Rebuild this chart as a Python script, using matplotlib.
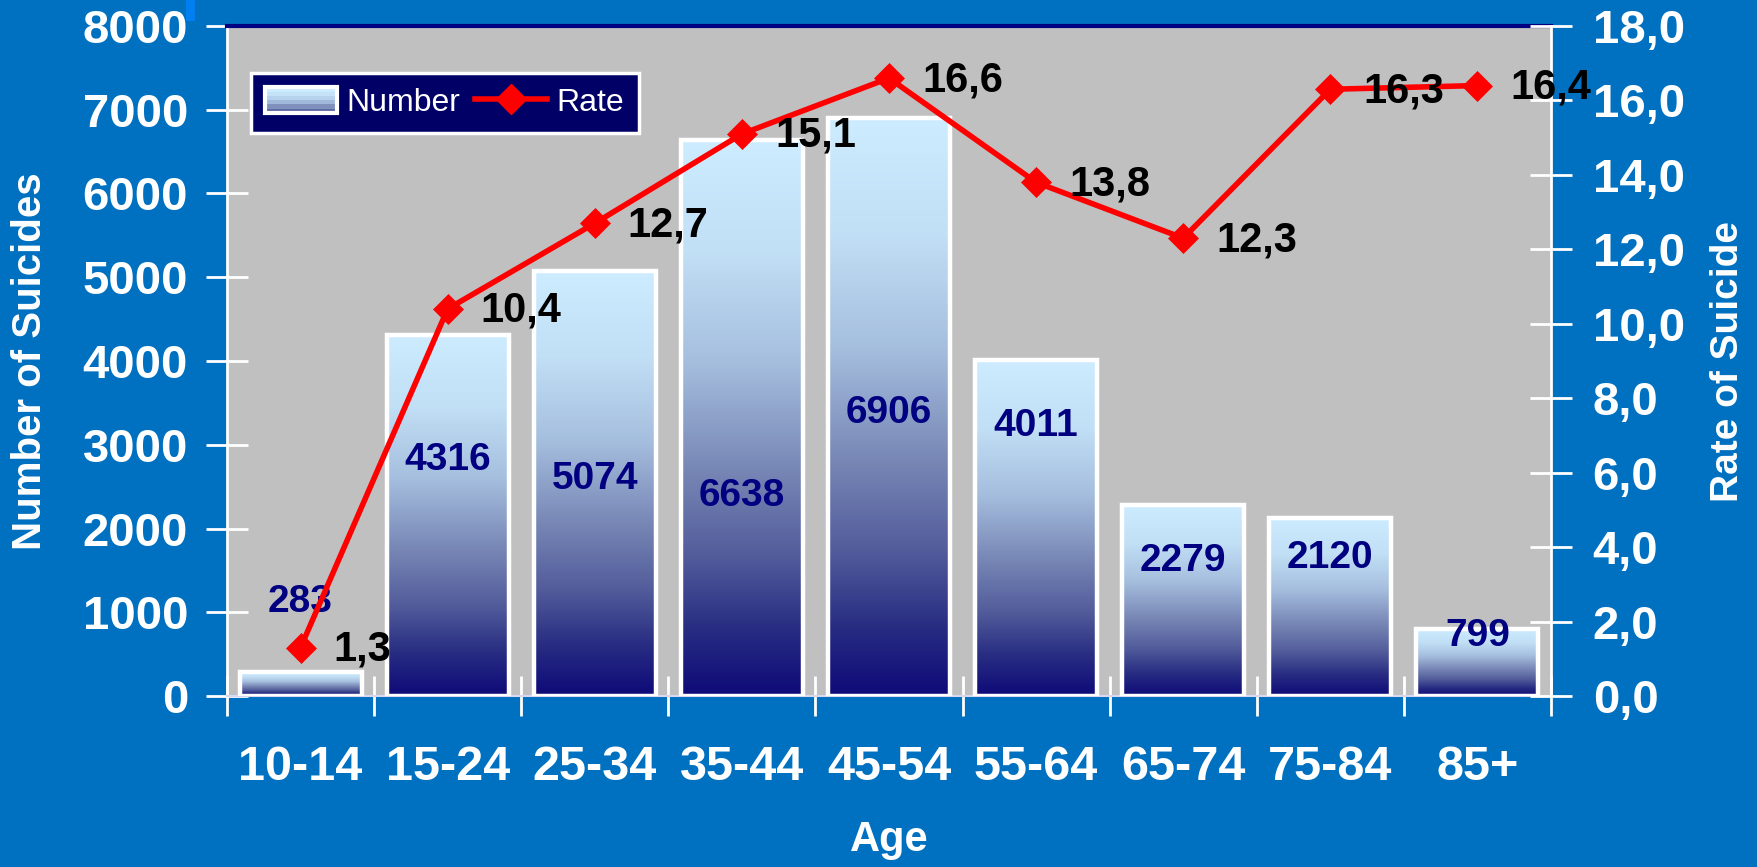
import numpy as np
import matplotlib
matplotlib.use("Agg")
import matplotlib.pyplot as plt
from matplotlib.colors import LinearSegmentedColormap
from matplotlib.patches import Rectangle
from matplotlib.lines import Line2D
from matplotlib.legend_handler import HandlerBase

# ---------------- data ----------------
age_groups = ['10-14', '15-24', '25-34', '35-44', '45-54', '55-64', '65-74', '75-84', '85+']
suicide_numbers = [283, 4316, 5074, 6638, 6906, 4011, 2279, 2120, 799]
suicide_rates = [1.3, 10.4, 12.7, 15.1, 16.6, 13.8, 12.3, 16.3, 16.4]
left_ticks = [0, 1000, 2000, 3000, 4000, 5000, 6000, 7000, 8000]
right_ticks = [0, 2, 4, 6, 8, 10, 12, 14, 16, 18]

# layout: vertical placement (data units) of the count labels
number_label_y = [1120, 2820, 2590, 2390, 3380, 3220, 1610, 1650, 720]

plt.rcParams['font.family'] = ['Liberation Sans', 'DejaVu Sans']
plt.rcParams['font.weight'] = 'bold'

BG = '#0070C0'
W, H = 1758, 867

fig = plt.figure(figsize=(W / 100, H / 100), dpi=100, facecolor=BG)
ax = fig.add_axes([227 / W, 1 - 696 / H, (1551 - 227) / W, (696 - 26) / H])
ax.set_facecolor('#C0C0C0')

cmap = LinearSegmentedColormap.from_list('bargrad', [
    (0.00, (14 / 255, 10 / 255, 120 / 255)),
    (0.12, (40 / 255, 45 / 255, 130 / 255)),
    (0.25, (82 / 255, 92 / 255, 155 / 255)),
    (0.40, (118 / 255, 133 / 255, 180 / 255)),
    (0.60, (165 / 255, 190 / 255, 222 / 255)),
    (0.80, (193 / 255, 223 / 255, 245 / 255)),
    (1.00, (205 / 255, 236 / 255, 255 / 255)),
])

x = np.arange(len(age_groups))
bars = ax.bar(x, suicide_numbers, width=0.83, facecolor='none',
              edgecolor='white', linewidth=3.2, zorder=3)
grad = np.linspace(0, 1, 256).reshape(-1, 1)
for b in bars:
    x0, y0 = b.get_x(), b.get_y()
    im = ax.imshow(grad, extent=[x0, x0 + b.get_width(), y0, y0 + b.get_height()],
                   origin='lower', cmap=cmap, aspect='auto', zorder=2,
                   interpolation='bilinear')
    im.set_clip_path(b)

for xi, yl, n in zip(x, number_label_y, suicide_numbers):
    ax.text(xi, yl, str(n), ha='center', va='center', fontsize=28,
            color='#000080', fontweight='bold', zorder=5)

ax.set_xlim(-0.5, len(age_groups) - 0.5)
ax.set_ylim(0, 8000)
ax.set_yticks(left_ticks)
ax.set_yticklabels([str(t) for t in left_ticks])
ax.set_xticks(np.arange(-0.5, len(age_groups), 1.0))
ax.set_xticks(x, minor=True)
ax.set_xticklabels(age_groups, minor=True)
ax.tick_params(axis='x', which='major', direction='inout', length=29, width=2,
               color='white', labelbottom=False)
ax.tick_params(axis='x', which='minor', length=0, pad=35, labelsize=35,
               labelcolor='white')
ax.tick_params(axis='y', direction='inout', length=30, width=2, color='white',
               labelsize=34, labelcolor='white', pad=13)

ax.spines['left'].set_color('white')
ax.spines['left'].set_linewidth(2)
ax.spines['right'].set_visible(False)
ax.spines['top'].set_color('#000080')
ax.spines['top'].set_linewidth(3)
ax.spines['bottom'].set_color('#D8D8F0')
ax.spines['bottom'].set_linewidth(1.5)

ax2 = ax.twinx()
ax2.set_ylim(0, 18)
ax2.set_yticks(right_ticks)
ax2.set_yticklabels([f"{t:.1f}".replace('.', ',') for t in right_ticks])
ax2.tick_params(axis='y', direction='inout', length=30, width=2, color='white',
                labelsize=34, labelcolor='white', pad=15)
for s in ['left', 'top', 'bottom']:
    ax2.spines[s].set_visible(False)
ax2.spines['right'].set_color('white')
ax2.spines['right'].set_linewidth(2)

ax2.plot(x, suicide_rates, color='#FF0000', lw=4, marker='D', ms=15,
         mfc='#FF0000', mec='#FF0000', mew=0.5, zorder=4, clip_on=False)
for xi, v in zip(x, suicide_rates):
    ax2.annotate(f"{v:.1f}".replace('.', ','), (xi, v), xytext=(33, -2),
                 textcoords='offset pixels', fontsize=30, fontweight='bold',
                 color='black', ha='left', va='center', annotation_clip=False,
                 zorder=6)


class GradientHandler(HandlerBase):
    def create_artists(self, legend, orig_handle, xdescent, ydescent,
                       width, height, fontsize, trans):
        arts = []
        n = 6
        for i in range(n):
            c = cmap(0.3 + 0.7 * i / (n - 1))
            arts.append(Rectangle((-xdescent, -ydescent + height * i / n),
                                  width, height / n, facecolor=c,
                                  edgecolor='none', transform=trans))
        arts.append(Rectangle((-xdescent, -ydescent), width, height, fill=False,
                              edgecolor='white', lw=3, transform=trans))
        return arts


grad_handle = Rectangle((0, 0), 1, 1)
rate_handle = Line2D([], [], color='#FF0000', lw=4, marker='D', ms=15,
                     mfc='#FF0000', mec='#FF0000')
leg = ax2.legend([grad_handle, rate_handle], ['Number', 'Rate'],
                 handler_map={grad_handle: GradientHandler()},
                 loc='upper left', bbox_to_anchor=(251 / W, 1 - 73 / H),
                 bbox_transform=fig.transFigure, ncol=2, frameon=True,
                 fancybox=False, framealpha=1, facecolor='#000066',
                 edgecolor='white', prop={'size': 23, 'weight': 'normal'},
                 labelcolor='white', handlelength=2.25, handleheight=0.85,
                 handletextpad=0.3, columnspacing=0.45, borderpad=0.45,
                 borderaxespad=0)
leg.get_frame().set_linewidth(2.5)

fig.text(30.5 / W, 1 - 361 / H, 'Number of Suicides', rotation=90, ha='center',
         va='center', fontsize=29, color='white', fontweight='bold')
fig.text(1728 / W, 1 - 361 / H, 'Rate of Suicide', rotation=90, ha='center',
         va='center', fontsize=28, color='white', fontweight='bold')
fig.text(889 / W, 1 - 840 / H, 'Age', ha='center', va='center', fontsize=30,
         color='white', fontweight='bold')

fig.patches.append(Rectangle((186 / W, 1 - 21 / H), 9 / W, 21 / H,
                             transform=fig.transFigure, facecolor='#0080F0',
                             edgecolor='none'))

fig.savefig('out.png', dpi=100, facecolor=BG)
